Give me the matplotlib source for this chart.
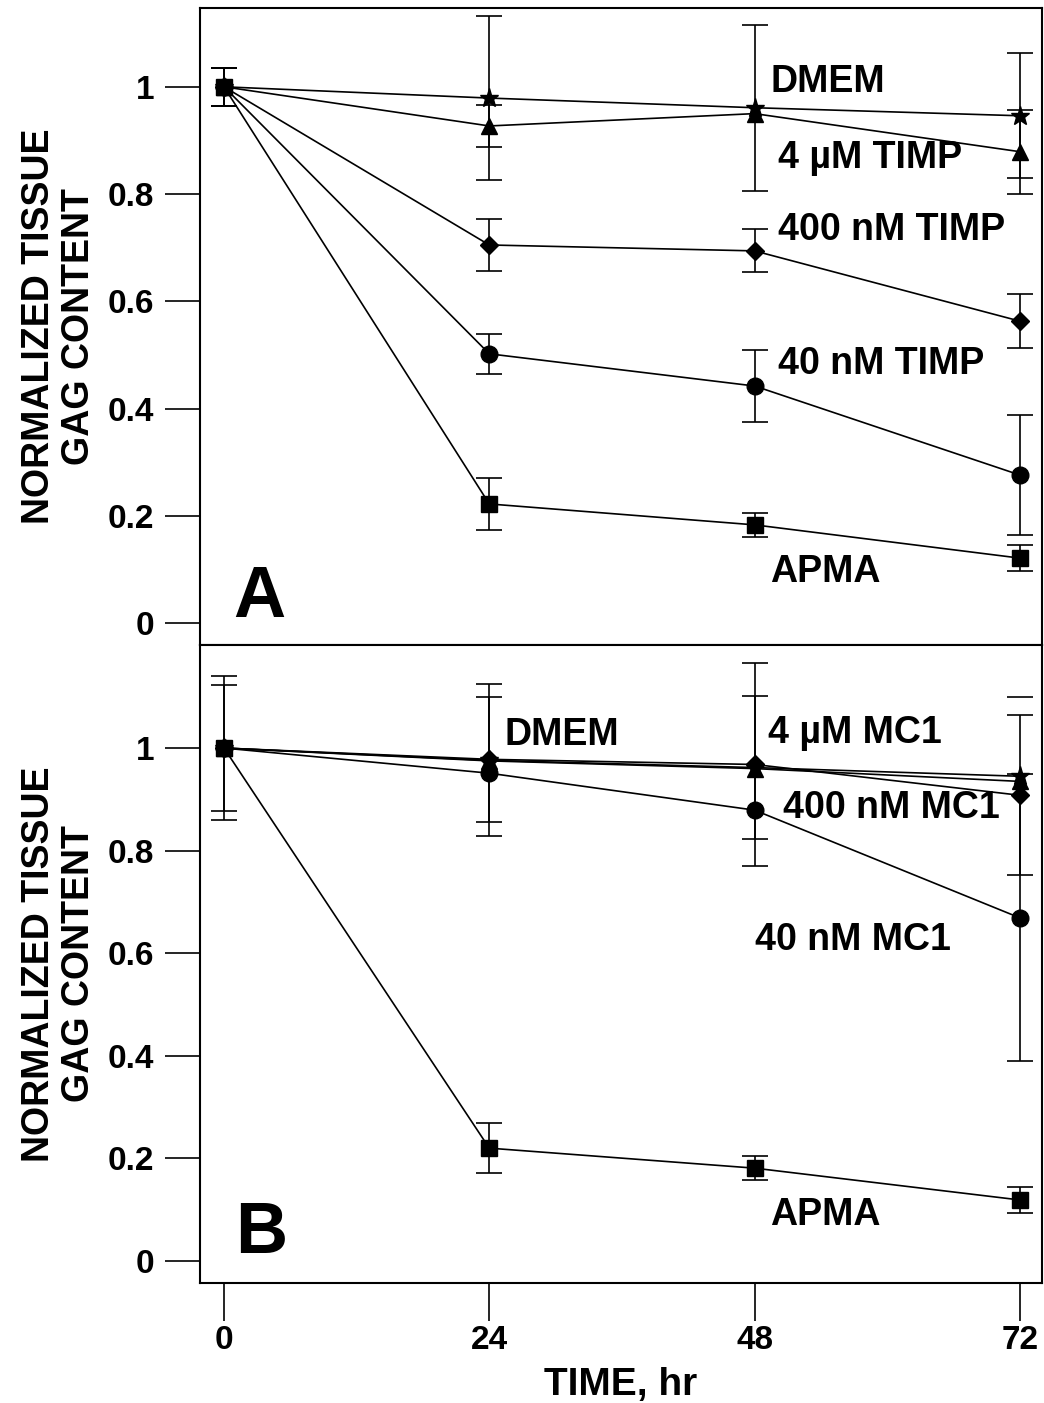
import matplotlib
matplotlib.use('Agg')
import matplotlib.pyplot as plt
import numpy as np

plt.rcParams['font.family'] = ['Liberation Sans', 'DejaVu Sans']
plt.rcParams['font.weight'] = 'bold'

nan = np.nan
hours = [0, 24, 48, 72]

# panel A: TIMP
dmem_a = [1.0, 0.979, 0.961, 0.946]
dmem_a_err = [0.035, 0.153, 0.155, 0.117]
timp4 = [1.0, 0.927, 0.950, 0.879]
timp4_err = [0.035, 0.039, nan, 0.078]
timp400 = [1.0, 0.705, 0.694, 0.563]
timp400_err = [0.035, 0.049, 0.04, 0.05]
timp40 = [1.0, 0.502, 0.442, 0.276]
timp40_err = [0.035, 0.037, 0.068, 0.111]
apma_a = [1.0, 0.222, 0.183, 0.121]
apma_a_err = [0.035, 0.048, 0.023, 0.024]

# panel B: MC1
dmem_b = [1.0, 0.976, 0.962, 0.945]
dmem_b_err_lo = [0.14, 0.148, 0.14, nan]
dmem_b_err_hi = [0.14, 0.148, 0.14, 0.154]
mc1_4 = [1.0, 0.975, 0.96, 0.935]
mc1_4_err = [nan, nan, nan, nan]
mc1_400 = [1.0, 0.978, 0.968, 0.908]
mc1_400_err = [0.122, 0.122, 0.198, 0.156]
mc1_40 = [1.0, 0.951, 0.879, 0.669]
mc1_40_err = [nan, nan, nan, 0.28]
apma_b = [1.0, 0.220, 0.181, 0.119]
apma_b_err = [nan, 0.049, 0.023, 0.025]

yticks = [0, 0.2, 0.4, 0.6, 0.8, 1]
yticklabels = ['0', '0.2', '0.4', '0.6', '0.8', '1']

fig = plt.figure(figsize=(10.44, 14.03), dpi=100)
axA = fig.add_axes([0.1916, 0.5403, 0.8064, 0.454])
axB = fig.add_axes([0.1916, 0.0855, 0.8064, 0.4548], sharex=axA)

def series(ax, y, e, m, ms):
    ax.errorbar(hours, y, yerr=e, fmt='-', marker=m, color='black', ms=ms,
                lw=1.2, elinewidth=1.2, capsize=9.5, capthick=1.2,
                markeredgecolor='black', markerfacecolor='black')

series(axA, dmem_a, dmem_a_err, '*', 14)
series(axA, timp4, timp4_err, '^', 11)
series(axA, timp400, timp400_err, 'D', 9)
series(axA, timp40, timp40_err, 'o', 12)
series(axA, apma_a, apma_a_err, 's', 12)

series(axB, dmem_b, [dmem_b_err_lo, dmem_b_err_hi], '*', 14)
series(axB, mc1_4, mc1_4_err, '^', 11)
series(axB, mc1_400, mc1_400_err, 'D', 9)
series(axB, mc1_40, mc1_40_err, 'o', 12)
series(axB, apma_b, apma_b_err, 's', 12)

fs = 27
axA.text(49.4, 1.009, 'DMEM', fontsize=fs, fontweight='bold', va='center')
axA.text(50.1, 0.868, '4 \u00b5M TIMP', fontsize=fs, fontweight='bold', va='center')
axA.text(50.1, 0.733, '400 nM TIMP', fontsize=fs, fontweight='bold', va='center')
axA.text(50.1, 0.483, '40 nM TIMP', fontsize=fs, fontweight='bold', va='center')
axA.text(49.4, 0.095, 'APMA', fontsize=fs, fontweight='bold', va='center')
axA.text(0.8, 0.011, 'A', fontsize=52, fontweight='bold', va='baseline')

axB.text(25.4, 1.025, 'DMEM', fontsize=fs, fontweight='bold', va='center')
axB.text(49.2, 1.029, '4 \u00b5M MC1', fontsize=fs, fontweight='bold', va='center')
axB.text(50.6, 0.883, '400 nM MC1', fontsize=fs, fontweight='bold', va='center')
axB.text(48.0, 0.626, '40 nM MC1', fontsize=fs, fontweight='bold', va='center')
axB.text(49.4, 0.09, 'APMA', fontsize=fs, fontweight='bold', va='center')
axB.text(1.0, 0.015, 'B', fontsize=52, fontweight='bold', va='baseline')

axA.set_xlim(-2.17, 74.0)
axA.set_ylim(-0.041, 1.147)
axB.set_ylim(-0.043, 1.201)

for ax in (axA, axB):
    ax.set_yticks(yticks)
    ax.set_yticklabels(yticklabels, fontsize=24, fontweight='bold')
    ax.tick_params(axis='y', direction='out', length=25, width=1.2, pad=8)
    for s in ax.spines.values():
        s.set_linewidth(1.5)
    ax.set_ylabel('NORMALIZED TISSUE\nGAG CONTENT', fontsize=27,
                  fontweight='bold', linespacing=1.15)
    ax.yaxis.set_label_coords(-0.122, 0.5)

axA.tick_params(axis='x', bottom=False, labelbottom=False)
axB.set_xticks(hours)
axB.set_xticklabels([str(h) for h in hours], fontsize=24, fontweight='bold')
axB.tick_params(axis='x', direction='out', length=27, width=1.2, pad=3)
axB.set_xlabel('TIME, hr', fontsize=28, fontweight='bold', labelpad=8)

fig.savefig('out.png', dpi=100)
